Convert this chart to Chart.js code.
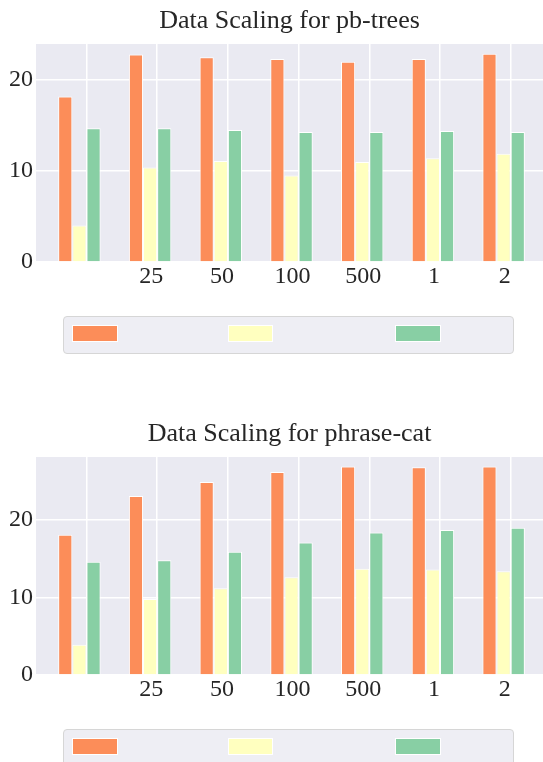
<!DOCTYPE html>
<html>
<head>
<meta charset="utf-8">
<script src="https://cdn.jsdelivr.net/npm/chart.js@4.4.0/dist/chart.umd.min.js"></script>
<style>
    body { margin: 0; background: #fff; width: 543px; height: 762px; overflow: hidden; position: relative; }
    .panel { position: absolute; left: 0; width: 543px; height: 300px; }
    .legend {
        position: absolute; left: 62.5px; width: 449px; height: 36px;
        background: #EEEEF4; border: 1.5px solid #D6D6D6; border-radius: 4px;
    }
    .legend .item { position: absolute; top: 8px; display: flex; align-items: center; }
    .legend .item:nth-child(1) { left: 8.5px; }
    .legend .item:nth-child(2) { left: 164px; }
    .legend .item:nth-child(3) { left: 331.5px; }
    .legend .swatch { width: 43.5px; height: 14.5px; border: 1px solid #fff; }
    .legend .text { font-family: 'Liberation Serif', serif; font-size: 20px; color: #262626; margin-left: 8px; }
</style>
</head>
<body>
<canvas id="chartTop" class="panel" style="top:0px" width="543" height="300"></canvas>
<div id="legendTop" class="legend" style="top:316px"></div>
<canvas id="chartBottom" class="panel" style="top:413px" width="543" height="300"></canvas>
<div id="legendBottom" class="legend" style="top:729.3px"></div>
<script>
// Data
const categories = ['', '25', '50', '100', '500', '1', '2'];
const seriesLabels = ['', '', ''];
const seriesColors = ['#FC8D59', '#FFFFBF', '#88CFA4'];
const yTicks = [0, 10, 20];

const pbTreesOrange = [18.2, 22.8, 22.5, 22.3, 22.0, 22.3, 22.9];
const pbTreesYellow = [4.0, 10.4, 11.1, 9.5, 11.0, 11.4, 11.9];
const pbTreesGreen  = [14.7, 14.7, 14.5, 14.3, 14.3, 14.4, 14.3];

const phraseCatOrange = [18.1, 23.1, 24.9, 26.2, 26.9, 26.8, 26.9];
const phraseCatYellow = [3.9, 9.8, 11.2, 12.6, 13.7, 13.6, 13.4];
const phraseCatGreen  = [14.6, 14.8, 15.9, 17.1, 18.4, 18.7, 19.0];

const TEXT_COLOR = '#262626';
const FONT = "'Liberation Serif', serif";

// Plot background (seaborn darkgrid)
const plotBackground = {
    id: 'plotBackground',
    beforeDraw(chart) {
        const { ctx, chartArea: a } = chart;
        ctx.save();
        ctx.fillStyle = '#EAEAF2';
        ctx.fillRect(a.left, a.top, a.right - a.left, a.bottom - a.top);
        ctx.restore();
    }
};

function toPoints(values) {
    return values.map((v, i) => ({ x: i, y: v }));
}

function makeChart(canvasId, title, seriesValues, yMax) {
    return new Chart(document.getElementById(canvasId), {
        type: 'bar',
        data: {
            datasets: seriesValues.map((values, k) => ({
                label: seriesLabels[k],
                data: toPoints(values),
                backgroundColor: seriesColors[k],
                borderColor: '#ffffff',
                borderWidth: 1,
                categoryPercentage: 0.6,
                barPercentage: 1.0
            }))
        },
        options: {
            responsive: false,
            animation: false,
            devicePixelRatio: 1,
            layout: { padding: 0 },
            plugins: {
                legend: { display: false },
                tooltip: { enabled: false },
                title: {
                    display: true,
                    text: title,
                    fullSize: false,
                    color: TEXT_COLOR,
                    font: { family: FONT, size: 26, weight: 'normal' },
                    padding: { top: 6, bottom: 6.8 }
                }
            },
            scales: {
                x: {
                    type: 'linear',
                    offset: false,
                    min: -0.614,
                    max: 6.557,
                    afterBuildTicks: scale => {
                        scale.ticks = categories.map((c, i) => ({ value: i + 0.1 }));
                    },
                    afterFit: scale => { scale.height = 38; },
                    grid: { color: '#ffffff', lineWidth: 1.5, drawTicks: false, offset: false },
                    border: { display: false },
                    ticks: {
                        autoSkip: false,
                        maxRotation: 0,
                        padding: 0,
                        labelOffset: -6,
                        color: TEXT_COLOR,
                        font: { family: FONT, size: 24 },
                        callback: (value, index) => categories[index]
                    }
                },
                y: {
                    min: 0,
                    max: yMax,
                    afterBuildTicks: scale => {
                        scale.ticks = yTicks.map(v => ({ value: v }));
                    },
                    afterFit: scale => { scale.width = 36; },
                    grid: { color: '#ffffff', lineWidth: 1.5, drawTicks: false },
                    border: { display: false },
                    ticks: {
                        padding: 3,
                        color: TEXT_COLOR,
                        font: { family: FONT, size: 24 }
                    }
                }
            }
        },
        plugins: [plotBackground]
    });
}

// HTML legend built from the chart's datasets
function buildLegend(chart, elementId) {
    const box = document.getElementById(elementId);
    box.innerHTML = chart.data.datasets.map(ds => `
        <div class="item">
            <div class="swatch" style="background:${ds.backgroundColor}"></div>
            ${ds.label ? `<span class="text">${ds.label}</span>` : ''}
        </div>
    `).join('');
}

const topChart = makeChart('chartTop', 'Data Scaling for pb-trees',
    [pbTreesOrange, pbTreesYellow, pbTreesGreen], 23.96);
const bottomChart = makeChart('chartBottom', 'Data Scaling for phrase-cat',
    [phraseCatOrange, phraseCatYellow, phraseCatGreen], 28.13);

buildLegend(topChart, 'legendTop');
buildLegend(bottomChart, 'legendBottom');
</script>
</body>
</html>
